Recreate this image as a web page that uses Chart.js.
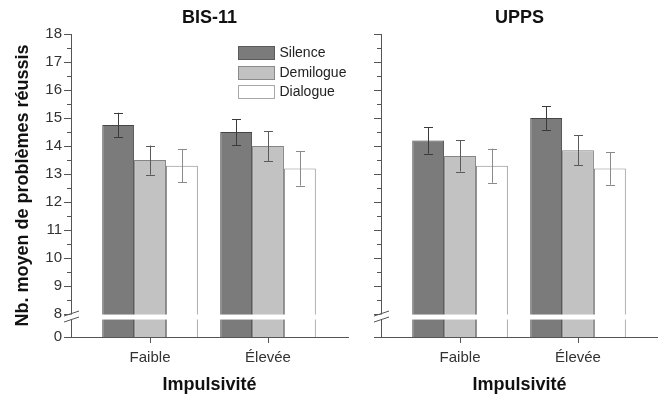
<!DOCTYPE html>
<html>
<head>
<meta charset="utf-8">
<script src="https://cdn.jsdelivr.net/npm/chart.js@4.4.0/dist/chart.umd.min.js"></script>
<style>
  html, body { margin: 0; padding: 0; background: #fff; }
  #wrap { position: relative; width: 658px; height: 398px; overflow: hidden; }
  canvas { position: absolute; top: 0; }
  #left { left: 0; }
  #right { left: 352px; }
</style>
</head>
<body>
<div id="wrap">
  <canvas id="left" width="352" height="398"></canvas>
  <canvas id="right" width="306" height="398"></canvas>
</div>
<script>
// categories / series
const categories = ['Faible', 'Élevée'];
const seriesNames = ['Silence', 'Demilogue', 'Dialogue'];

// BIS-11 means and error bars
const bisSilence = [14.75, 14.5];
const bisDemilogue = [13.5, 14.0];
const bisDialogue = [13.3, 13.2];
const bisSilenceErr = [0.44, 0.46];
const bisDemilogueErr = [0.52, 0.54];
const bisDialogueErr = [0.59, 0.61];

// UPPS means and error bars
const uppsSilence = [14.2, 15.0];
const uppsDemilogue = [13.65, 13.85];
const uppsDialogue = [13.3, 13.2];
const uppsSilenceErr = [0.47, 0.43];
const uppsDemilogueErr = [0.56, 0.53];
const uppsDialogueErr = [0.61, 0.58];

// y axis: 8..18 plus a broken segment down to 0
const yTicks = [8, 9, 10, 11, 12, 13, 14, 15, 16, 17, 18];
const zeroLabel = '0';
const brokenBottom = 7.18;   // where "0" sits on the broken axis

const fills = ['#7b7b7b', '#c2c2c2', '#ffffff'];
const borders = ['#454545', '#858585', '#8c8c8c'];
const errColors = ['#3a3a3a', '#5a5a5a', '#8a8a8a'];
const legendBorders = ['#5a5a5a', '#8a8a8a', '#a8a8a8'];

Chart.defaults.font.family = '"Liberation Sans", Arial, sans-serif';
Chart.defaults.color = '#333';

const errorBars = {
    id: 'errorBars',
    afterDatasetsDraw(chart) {
        const ctx = chart.ctx;
        const yScale = chart.scales.y;
        ctx.save();
        ctx.lineWidth = 1;
        chart.data.datasets.forEach((ds, i) => {
            const meta = chart.getDatasetMeta(i);
            ctx.strokeStyle = errColors[i];
            meta.data.forEach((bar, j) => {
                const v = ds.data[j].y;
                const e = ds.errors[j];
                const x = Math.round(bar.x) + 0.5;
                const top = yScale.getPixelForValue(v + e);
                const bottom = yScale.getPixelForValue(v - e);
                ctx.beginPath();
                ctx.moveTo(x, top);
                ctx.lineTo(x, bottom);
                ctx.moveTo(x - 4.5, Math.round(top) + 0.5);
                ctx.lineTo(x + 4.5, Math.round(top) + 0.5);
                ctx.moveTo(x - 4.5, Math.round(bottom) + 0.5);
                ctx.lineTo(x + 4.5, Math.round(bottom) + 0.5);
                ctx.stroke();
            });
        });
        ctx.restore();
    }
};

const axisBreak = {
    id: 'axisBreak',
    afterDatasetsDraw(chart) {
        const ctx = chart.ctx;
        const area = chart.chartArea;
        const p8 = chart.scales.y.getPixelForValue(8);
        const l = area.left;
        ctx.save();
        ctx.fillStyle = '#fff';
        ctx.fillRect(l - 1, p8 + 0.5, area.right - l + 2, 5);
        ctx.strokeStyle = '#555';
        ctx.lineWidth = 1;
        ctx.beginPath();
        ctx.moveTo(l - 7, p8 + 2);
        ctx.lineTo(l + 8, p8 - 3);
        ctx.moveTo(l - 7, p8 + 8);
        ctx.lineTo(l + 8, p8 + 3);
        ctx.stroke();
        ctx.restore();
    }
};

const minorTicks = {
    id: 'minorTicks',
    afterDraw(chart) {
        const ctx = chart.ctx;
        const y = chart.scales.y;
        const l = chart.chartArea.left;
        ctx.save();
        ctx.strokeStyle = '#555';
        ctx.lineWidth = 1;
        ctx.beginPath();
        for (let v = 8.5; v < 18; v += 1) {
            const py = Math.round(y.getPixelForValue(v)) + 0.5;
            ctx.moveTo(l - 4, py);
            ctx.lineTo(l, py);
        }
        ctx.stroke();
        ctx.restore();
    }
};

const boxLegend = {
    id: 'boxLegend',
    afterDraw(chart) {
        const ctx = chart.ctx;
        const area = chart.chartArea;
        ctx.save();
        ctx.font = '14px "Liberation Sans", Arial, sans-serif';
        ctx.textBaseline = 'middle';
        chart.data.datasets.forEach((ds, i) => {
            const x = Math.round(area.left + 167) + 0.5;
            const y = Math.round(area.top + 12 + i * 19.6) + 0.5;
            ctx.fillStyle = ds.backgroundColor;
            ctx.fillRect(x, y, 36, 13);
            ctx.strokeStyle = legendBorders[i];
            ctx.strokeRect(x, y, 36, 13);
            ctx.fillStyle = '#222';
            ctx.fillText(ds.label, x + 41, y + 7);
        });
        ctx.restore();
    }
};

function makePanel(id, title, values, errors, isLeft) {
    const datasets = seriesNames.map((name, i) => ({
        label: name,
        data: categories.map((c, j) => ({ x: j + 1, y: values[i][j] })),
        errors: errors[i],
        backgroundColor: fills[i],
        borderColor: borders[i],
        borderWidth: 1,
        categoryPercentage: 0.81,
        barPercentage: 1
    }));

    const plugins = [errorBars, axisBreak, minorTicks];
    if (isLeft) plugins.push(boxLegend);

    return new Chart(document.getElementById(id), {
        type: 'bar',
        data: { datasets: datasets },
        plugins: plugins,
        options: {
            responsive: false,
            animation: false,
            devicePixelRatio: 1,
            layout: { padding: { left: 0, right: isLeft ? 4 : 0, top: 0, bottom: 0 } },
            plugins: {
                legend: { display: false },
                tooltip: { enabled: false },
                title: {
                    display: true,
                    text: title,
                    fullSize: false,
                    color: '#111',
                    font: { size: 18, weight: 'bold' },
                    padding: { top: 7.5, bottom: 5 }
                }
            },
            scales: {
                x: {
                    type: 'linear',
                    offset: false,
                    min: 0.33,
                    max: 2.678,
                    afterBuildTicks: s => { s.ticks = categories.map((c, j) => ({ value: j + 1 })); },
                    afterFit: s => { s.height = 61; },
                    ticks: {
                        font: { size: 15 },
                        color: '#333',
                        padding: 6,
                        maxRotation: 0,
                        autoSkip: false,
                        callback: v => categories[v - 1]
                    },
                    grid: { offset: false, drawOnChartArea: false, tickLength: 6, tickColor: '#555' },
                    border: { color: '#555', width: 1 },
                    title: {
                        display: true,
                        text: 'Impulsivité',
                        color: '#111',
                        font: { size: 18, weight: 'bold' },
                        padding: { top: 0, bottom: 2 }
                    }
                },
                y: {
                    min: brokenBottom,
                    max: 18,
                    afterBuildTicks: s => { s.ticks = [brokenBottom].concat(yTicks).map(v => ({ value: v })); },
                    afterFit: s => { s.width = isLeft ? 71 : 29; },
                    ticks: {
                        font: { size: 15 },
                        color: '#333',
                        padding: 2,
                        autoSkip: false,
                        callback: v => isLeft ? (v < 8 ? zeroLabel : v) : ''
                    },
                    grid: { drawOnChartArea: false, tickLength: 7, tickColor: '#555' },
                    border: { color: '#555', width: 1 },
                    title: {
                        display: isLeft,
                        text: 'Nb. moyen de problèmes réussis',
                        color: '#111',
                        font: { size: 18, weight: 'bold' },
                        padding: { top: 12, bottom: 0 }
                    }
                }
            }
        }
    });
}

makePanel('left', 'BIS-11',
    [bisSilence, bisDemilogue, bisDialogue],
    [bisSilenceErr, bisDemilogueErr, bisDialogueErr], true);

makePanel('right', 'UPPS',
    [uppsSilence, uppsDemilogue, uppsDialogue],
    [uppsSilenceErr, uppsDemilogueErr, uppsDialogueErr], false);
</script>
</body>
</html>
